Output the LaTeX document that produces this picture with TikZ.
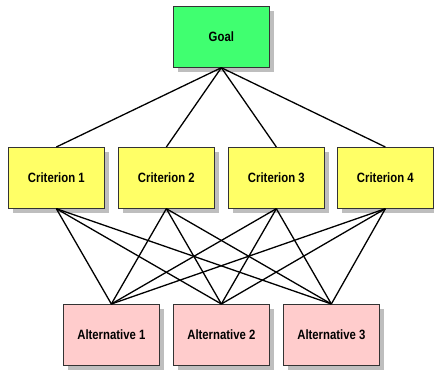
\documentclass[tikz,border=0pt]{standalone}
\usepackage{fontspec}
\setmainfont{Liberation Sans}
\definecolor{goalc}{RGB}{64,255,112}
\definecolor{critc}{RGB}{255,255,102}
\definecolor{altc}{RGB}{255,204,204}
\definecolor{shadc}{RGB}{190,190,190}
\tikzset{
  box/.style={draw=black!80, line width=0.7pt, minimum width=96pt, minimum height=61pt, inner sep=0pt},
  lbl/.style={font=\bfseries\fontsize{13.5}{15}\selectfont, inner sep=0pt},
  link/.style={draw=black, line width=1.3pt},
}
\newcommand{\shbox}[4]{%
  \fill[shadc] (#2+5pt,-#3-5pt) rectangle ++(96pt,-61pt);
  \node[box, fill=#4, anchor=north west] (#1) at (#2,-#3) {};
}
\newcommand{\narrow}[1]{\scalebox{0.84}[1]{#1}}
\begin{document}
\begin{tikzpicture}[x=1pt,y=1pt]
\useasboundingbox (0,0) rectangle (434,-374);
\shbox{goal}{173pt}{6pt}{goalc}
\shbox{c1}{8pt}{147pt}{critc}
\shbox{c2}{118pt}{147pt}{critc}
\shbox{c3}{228pt}{147pt}{critc}
\shbox{c4}{337pt}{147pt}{critc}
\shbox{a1}{63pt}{304pt}{altc}
\shbox{a2}{173pt}{304pt}{altc}
\shbox{a3}{283pt}{304pt}{altc}
\node[lbl] (tgoal) at (goal) {\narrow{Goal}};
\node[lbl] (tc1) at (c1) {\narrow{Criterion 1}};
\node[lbl] (tc2) at (c2) {\narrow{Criterion 2}};
\node[lbl] (tc3) at (c3) {\narrow{Criterion 3}};
\node[lbl] (tc4) at (c4) {\narrow{Criterion 4}};
\node[lbl] (ta1) at (a1) {\narrow{Alternative 1}};
\node[lbl] (ta2) at (a2) {\narrow{Alternative 2}};
\node[lbl] (ta3) at (a3) {\narrow{Alternative 3}};
\foreach \c in {c1,c2,c3,c4}{
  \draw[link] (goal.south) -- (\c.north);
  \foreach \a in {a1,a2,a3}{
    \draw[link] (\c.south) -- (\a.north);
  }
}
\end{tikzpicture}
\end{document}
